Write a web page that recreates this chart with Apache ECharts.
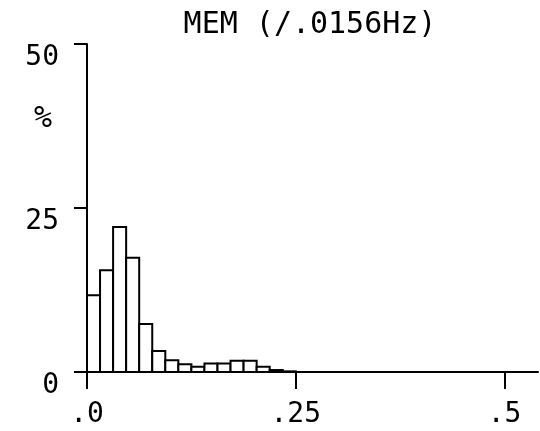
<!DOCTYPE html>
<html lang="en">
<head>
    <meta charset="UTF-8">
    <title>MEM</title>
    <script src="https://cdn.jsdelivr.net/npm/echarts@6/dist/echarts.min.js"></script>
    <style>
        html, body { margin: 0; padding: 0; background: #fff; }
    </style>
</head>
<body>
<div style="width:540px;height:431px" id="picture"></div>
<script>
    // bin width 1/64 Hz (~.0156Hz), percent per bin
    var binWidth = 0.015625;
    var percent = [11.7, 15.5, 22.1, 17.4, 7.3, 3.2, 1.8, 1.2, 0.8, 1.3, 1.3, 1.7, 1.7, 0.8, 0.3, 0.1];
    var xTicks = [0, 0.25, 0.5];
    var xTickLabels = ['.0', '.25', '.5'];
    var yTicks = [0, 25, 50];

    var font = 'DejaVu Sans Mono';
    var data = [];
    for (var i = 0; i < percent.length; i++) {
        data.push([i * binWidth, percent[i]]);
    }

    var myChart = echarts.init(document.getElementById('picture'));
    var option = {
        animation: false,
        backgroundColor: '#fff',
        title: {
            text: 'MEM (/.0156Hz)',
            left: 305,
            top: 5,
            textAlign: 'center',
            textStyle: {
                fontFamily: font,
                fontSize: 30,
                fontWeight: 'normal',
                color: '#000'
            }
        },
        graphic: [{
            type: 'text',
            left: 34,
            top: 104,
            style: {
                text: '%',
                font: '30px "DejaVu Sans Mono"',
                fill: '#000'
            }
        }],
        grid: {
            left: 87,
            right: 2,
            top: 44,
            bottom: 59
        },
        xAxis: {
            type: 'value',
            min: 0,
            max: 0.54,
            interval: 0.25,
            splitLine: { show: false },
            axisLine: { lineStyle: { color: '#000', width: 2 } },
            axisTick: { length: 17, lineStyle: { color: '#000', width: 2 } },
            axisLabel: {
                margin: 29,
                fontFamily: font,
                fontSize: 28,
                color: '#000',
                showMaxLabel: false,
                formatter: function (v) {
                    var k = xTicks.indexOf(v);
                    return k >= 0 ? xTickLabels[k] : '';
                }
            }
        },
        yAxis: {
            type: 'value',
            min: yTicks[0],
            max: yTicks[2],
            interval: 25,
            splitLine: { show: false },
            axisLine: { lineStyle: { color: '#000', width: 2 } },
            axisTick: { length: 13, lineStyle: { color: '#000', width: 2 } },
            axisLabel: {
                margin: 28,
                fontFamily: font,
                fontSize: 28,
                color: '#000',
                verticalAlign: 'top'
            }
        },
        series: [{
            type: 'custom',
            data: data,
            renderItem: function (params, api) {
                var x0 = api.value(0);
                var h = api.value(1);
                var p0 = api.coord([x0, h]);
                var p1 = api.coord([x0 + binWidth, 0]);
                return {
                    type: 'rect',
                    shape: { x: p0[0], y: p0[1], width: p1[0] - p0[0], height: p1[1] - p0[1] },
                    style: { fill: '#fff', stroke: '#000', lineWidth: 2 }
                };
            }
        }]
    };
    myChart.setOption(option);
</script>
</body>
</html>
